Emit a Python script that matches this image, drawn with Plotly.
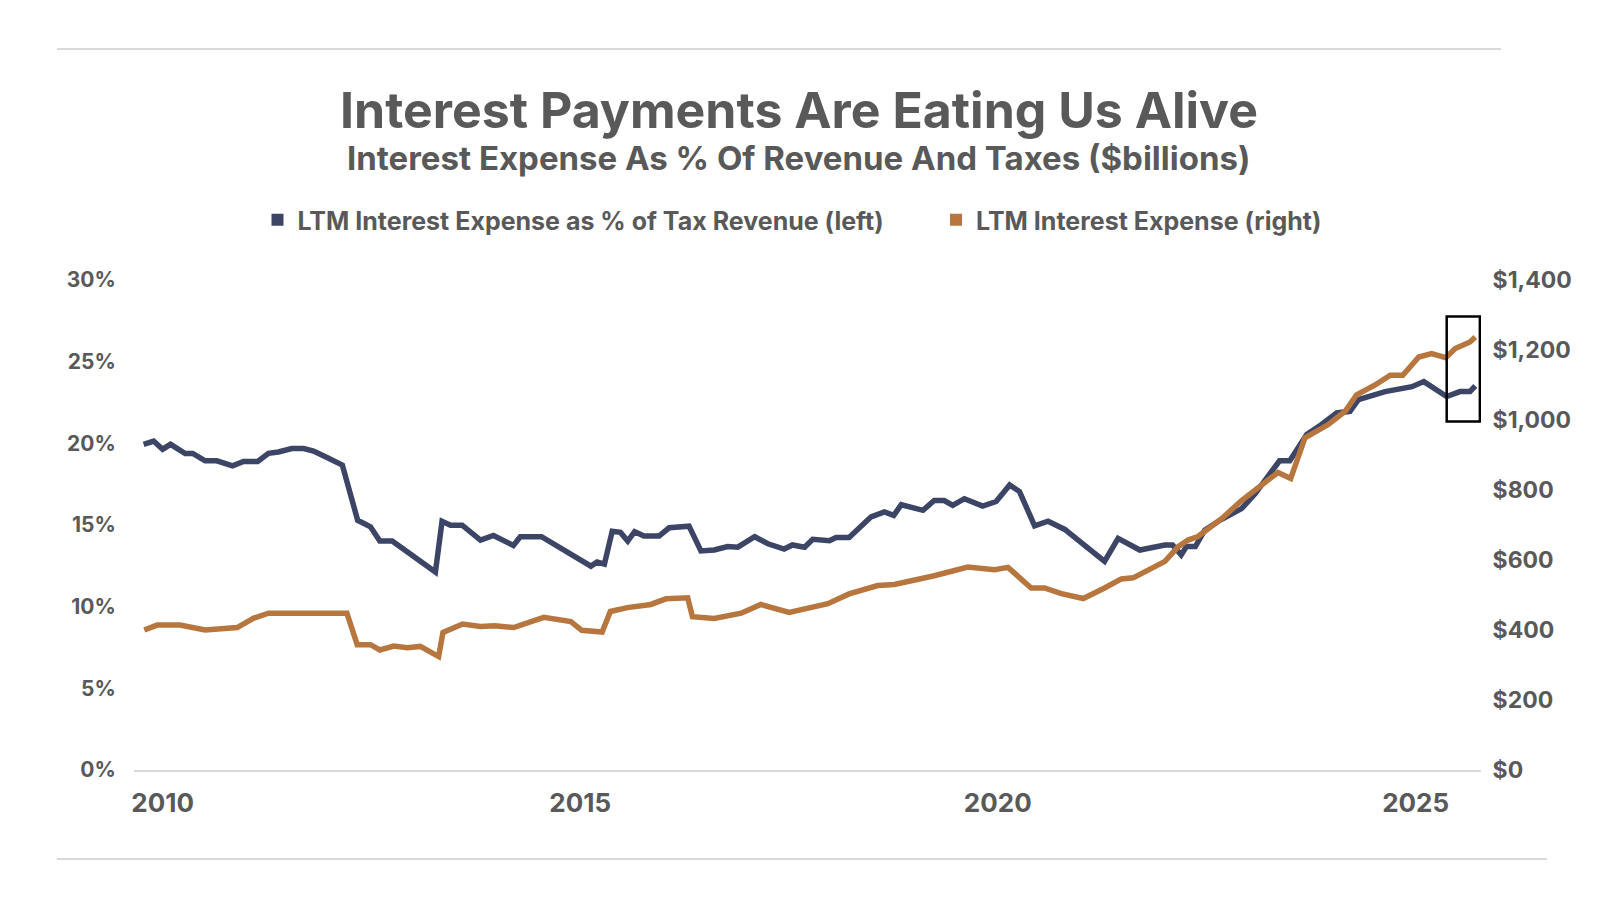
import plotly.graph_objects as go

# LTM interest expense as % of tax revenue (left axis)
pct_dates = [
    "2009-10-10", "2009-11-23", "2010-01-01", "2010-02-05", "2010-04-10", "2010-05-13",
    "2010-07-06", "2010-08-26", "2010-11-03", "2010-12-21", "2011-02-21", "2011-04-09",
    "2011-05-22", "2011-07-20", "2011-09-10", "2011-10-23", "2011-12-21", "2012-02-26",
    "2012-05-03", "2012-06-28", "2012-08-08", "2012-10-01", "2013-04-08", "2013-05-07",
    "2013-06-13", "2013-08-03", "2013-10-22", "2013-12-18", "2014-03-15", "2014-04-14",
    "2014-07-16", "2014-10-20", "2015-02-17", "2015-03-16", "2015-04-17", "2015-05-21",
    "2015-06-26", "2015-07-28", "2015-08-27", "2015-10-07", "2015-12-12", "2016-01-25",
    "2016-04-21", "2016-06-12", "2016-08-09", "2016-10-07", "2016-11-20", "2017-02-02",
    "2017-04-01", "2017-06-11", "2017-07-17", "2017-09-08", "2017-10-14", "2017-12-26",
    "2018-01-24", "2018-03-22", "2018-06-26", "2018-08-23", "2018-10-03", "2018-11-05",
    "2019-02-08", "2019-03-29", "2019-05-12", "2019-06-18", "2019-08-08", "2019-10-27",
    "2019-12-25", "2020-02-22", "2020-04-05", "2020-06-10", "2020-08-08", "2020-10-20",
    "2021-01-02", "2021-04-12", "2021-06-10", "2021-09-13", "2022-01-01", "2022-02-03",
    "2022-03-13", "2022-04-05", "2022-05-14", "2022-06-24", "2022-08-29", "2022-12-02",
    "2023-01-30", "2023-03-20", "2023-05-17", "2023-07-01", "2023-09-13", "2023-11-17",
    "2024-01-22", "2024-03-20", "2024-04-26", "2024-08-21", "2024-12-16", "2025-02-06",
    "2025-05-17", "2025-07-14", "2025-08-27", "2025-09-19",
]
pct_values = [
    19.94, 20.14, 19.64, 19.94, 19.38, 19.38, 18.93, 18.93, 18.62, 18.89, 18.89, 19.39,
    19.47, 19.68, 19.68, 19.53, 19.13, 18.67, 15.29, 14.89, 14.02, 14.02, 12.12, 15.23,
    14.99, 14.99, 14.08, 14.36, 13.75, 14.28, 14.28, 13.45, 12.48, 12.73, 12.61, 14.62,
    14.55, 14.02, 14.59, 14.32, 14.32, 14.83, 14.93, 13.41, 13.47, 13.68, 13.64, 14.28,
    13.85, 13.53, 13.78, 13.64, 14.12, 14.04, 14.24, 14.24, 15.50, 15.80, 15.59, 16.24,
    15.90, 16.50, 16.50, 16.20, 16.61, 16.16, 16.44, 17.45, 17.05, 14.95, 15.23, 14.73,
    13.94, 12.77, 14.18, 13.47, 13.78, 13.78, 13.17, 13.68, 13.68, 14.68, 15.29, 16.00,
    16.91, 17.82, 18.93, 18.93, 20.55, 21.15, 21.86, 21.96, 22.67, 23.17, 23.47, 23.78,
    22.87, 23.17, 23.17, 23.52,
]

# LTM interest expense, $ billions (right axis)
exp_dates = [
    "2009-10-13", "2009-12-08", "2010-03-18", "2010-07-06", "2010-11-23", "2011-02-04",
    "2011-04-09", "2012-03-17", "2012-05-01", "2012-06-28", "2012-08-08", "2012-10-08",
    "2012-12-06", "2013-02-01", "2013-04-22", "2013-05-11", "2013-08-05", "2013-10-22",
    "2013-12-23", "2014-03-16", "2014-07-26", "2014-11-21", "2015-01-08", "2015-04-07",
    "2015-05-13", "2015-07-26", "2015-11-06", "2016-01-11", "2016-04-15", "2016-05-06",
    "2016-08-09", "2016-12-05", "2017-03-01", "2017-07-03", "2017-12-19", "2018-03-22",
    "2018-07-25", "2018-10-06", "2019-03-29", "2019-08-23", "2019-12-18", "2020-02-15",
    "2020-05-26", "2020-07-23", "2020-10-05", "2021-01-09", "2021-04-12", "2021-06-24",
    "2021-08-15", "2022-01-01", "2022-02-28", "2022-04-12", "2022-05-25", "2022-09-06",
    "2022-12-02", "2023-02-14", "2023-05-10", "2023-07-05", "2023-09-05", "2023-12-16",
    "2024-02-28", "2024-04-18", "2024-07-08", "2024-09-12", "2024-11-06", "2025-01-15",
    "2025-03-12", "2025-05-13", "2025-06-23", "2025-08-27", "2025-09-19",
]
exp_values = [
    400, 414, 414, 400, 407, 434, 448, 448, 358, 358, 343, 354,
    349, 353, 324, 393, 417, 410, 412, 407, 436, 424, 399, 394,
    453, 464, 473, 489, 492, 438, 433, 448, 473, 450, 475, 503,
    527, 530, 555, 580, 572, 579, 520, 520, 504, 490, 520, 546,
    549, 596, 638, 657, 667, 718, 770, 808, 850, 833, 949, 987,
    1025, 1072, 1100, 1128, 1128, 1180, 1190, 1178, 1204, 1223, 1237,
]

pct_ticks = [0, 5, 10, 15, 20, 25, 30]
pct_labels = ["0%", "5%", "10%", "15%", "20%", "25%", "30%"]
exp_ticks = [0, 200, 400, 600, 800, 1000, 1200, 1400]
exp_labels = ["$0", "$200", "$400", "$600", "$800", "$1,000", "$1,200", "$1,400"]

# highlight box around the latest readings
box_dates = ["2025-05-17", "2025-10-09"]
box_values = [996, 1296]

NAVY = "#3d4566"
COPPER = "#b8763f"
GREY = "#595959"
RULE = "#d9d9d9"
FONT = "Inter"

W, H = 1600, 900
L, R, T, B = 126, 127, 272, 138


def px_x(x):
    return (x - L) / (W - L - R)


def px_y(y):
    return (H - B - y) / (H - T - B)


fig = go.Figure()
fig.add_trace(go.Scatter(x=pct_dates, y=pct_values, mode="lines",
                         line=dict(color=NAVY, width=5.5), showlegend=False,
                         yaxis="y"))
fig.add_trace(go.Scatter(x=exp_dates, y=exp_values, mode="lines",
                         line=dict(color=COPPER, width=5.5), showlegend=False,
                         yaxis="y2"))

# square legend keys like the original
fig.add_trace(go.Scatter(x=[None], y=[None], mode="markers",
                         marker=dict(symbol="square", size=12, color=NAVY),
                         name="LTM Interest Expense as % of Tax Revenue (left)"
                              + "&nbsp;" * 8))
fig.add_trace(go.Scatter(x=[None], y=[None], mode="markers",
                         marker=dict(symbol="square", size=12, color=COPPER),
                         name="LTM Interest Expense (right)"))

fig.add_shape(type="rect", xref="x", yref="y2",
              x0=box_dates[0], x1=box_dates[1], y0=box_values[0], y1=box_values[1],
              line=dict(color="black", width=2.5))

for y, x1 in [(41, 1493), (851, 1539)]:
    fig.add_shape(type="line", xref="paper", yref="paper",
                  x0=px_x(49), x1=px_x(x1), y0=px_y(y), y1=px_y(y),
                  line=dict(color=RULE, width=2))

fig.add_annotation(text="<b>Interest Expense As % Of Revenue And Taxes ($billions)</b>",
                   xref="paper", yref="paper", x=px_x(790), y=px_y(150),
                   xanchor="center", yanchor="middle",
                   showarrow=False, font=dict(family=FONT, size=33, color=GREY))

fig.update_layout(
    width=W, height=H,
    paper_bgcolor="white", plot_bgcolor="white",
    margin=dict(l=L, r=R, t=T, b=B, autoexpand=False),
    font=dict(family=FONT, color=GREY),
    title=dict(text="<b>Interest Payments Are Eating Us Alive</b>",
               x=791 / W, xanchor="center", y=1 - 102 / H, yanchor="middle",
               font=dict(family=FONT, size=50, color=GREY)),
    legend=dict(orientation="h", x=px_x(784), xanchor="center",
                y=px_y(212), yanchor="middle",
                font=dict(family=FONT, size=25, color=GREY, weight="bold"),
                itemclick=False),
    xaxis=dict(type="date", range=["2009-08-29", "2025-10-14"],
               tick0="2010-01-01", dtick="M60", tickformat="%Y",
               showgrid=False, zeroline=False,
               showline=True, linecolor=RULE, linewidth=2,
               ticks="outside", ticklen=9, tickcolor="rgba(0,0,0,0)",
               tickfont=dict(family=FONT, size=26, color=GREY, weight="bold")),
    yaxis=dict(range=[0, 30], tickmode="array", tickvals=pct_ticks, ticktext=pct_labels,
               showgrid=False, zeroline=False, showline=False,
               ticks="outside", ticklen=13, tickcolor="rgba(0,0,0,0)",
               tickfont=dict(family=FONT, size=21, color=GREY, weight="bold")),
    yaxis2=dict(range=[0, 1400], tickmode="array", tickvals=exp_ticks, ticktext=exp_labels,
                overlaying="y", side="right",
                showgrid=False, zeroline=False, showline=False,
                ticks="outside", ticklen=6, tickcolor="rgba(0,0,0,0)",
                tickfont=dict(family=FONT, size=23, color=GREY, weight="bold")),
)

fig.write_html("out.html")
